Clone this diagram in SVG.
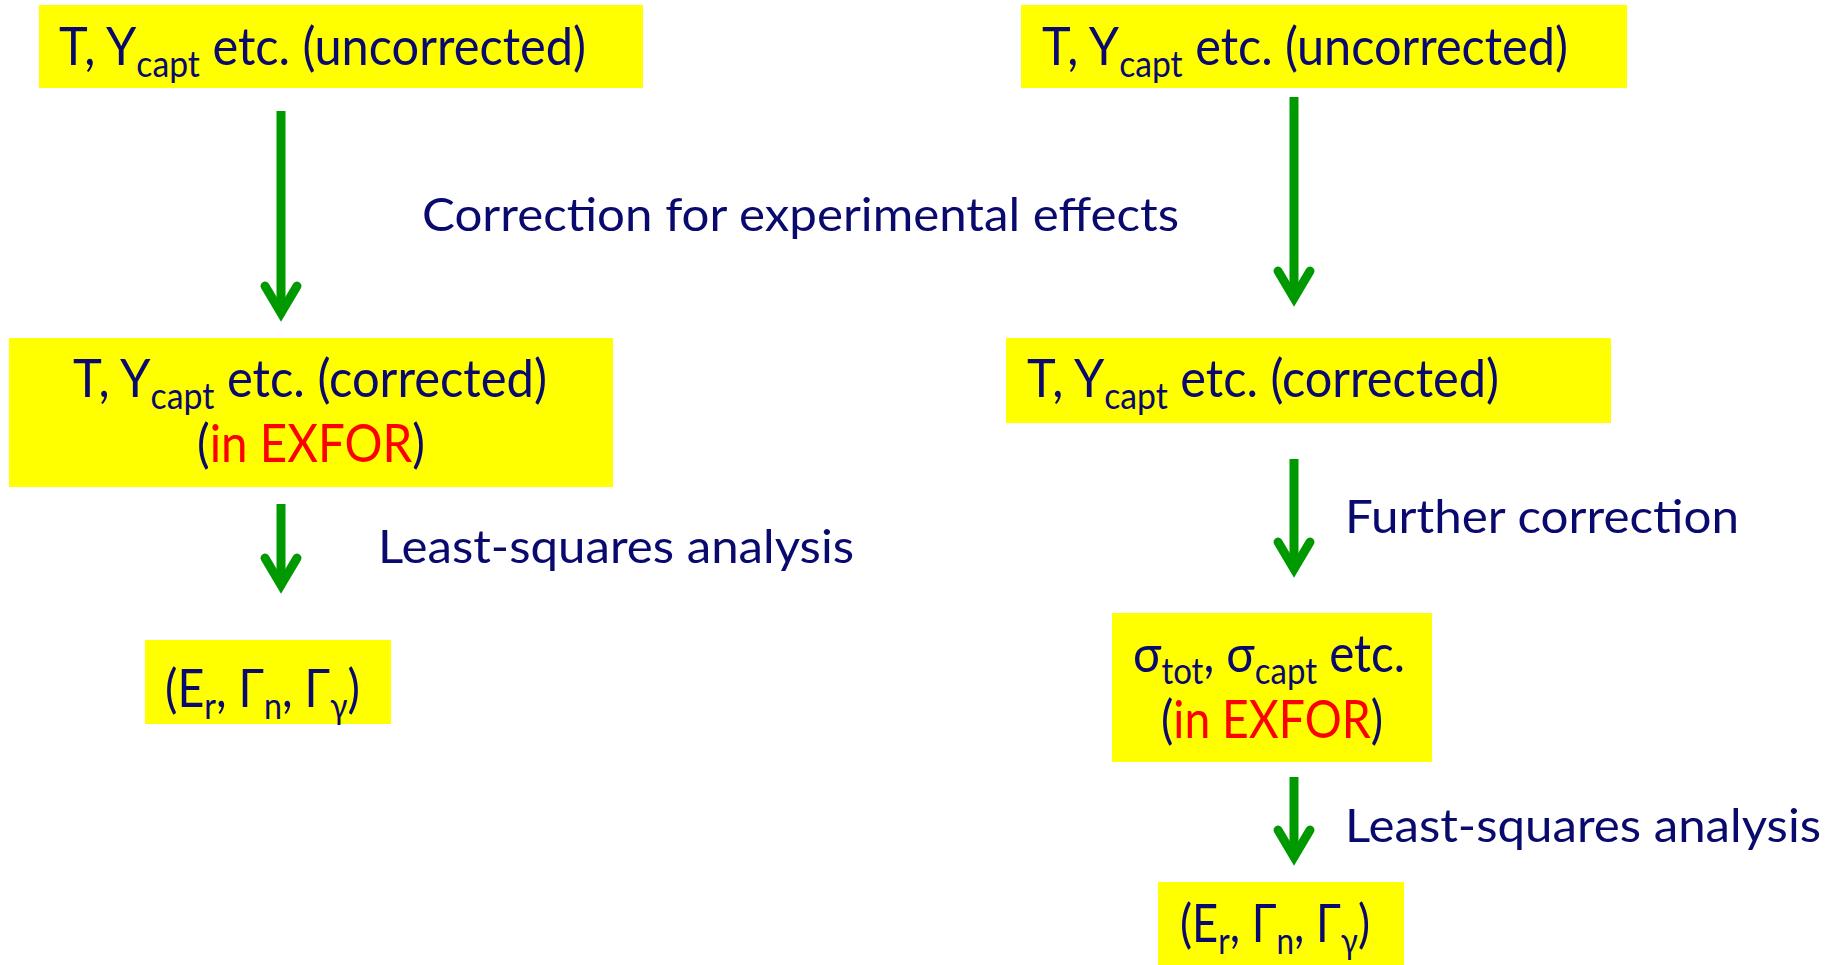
<svg xmlns="http://www.w3.org/2000/svg" width="1839" height="965" viewBox="0 0 1839 965">
<style>
  .box{fill:#FFFF00;}
  .t{font-family:Lato,"Open Sans","Liberation Sans",sans-serif;fill:#0A0A6E;}
  .bt{font-size:52px;}
  .lb{font-size:47px;}
  .sub{font-size:36px;}
  .red{fill:#FF0000;}
  .arr{stroke:#009900;stroke-width:9;fill:none;marker-end:url(#head);}
</style>
<defs>
  <marker id="head" markerUnits="userSpaceOnUse" viewBox="-40 -25 60 50" markerWidth="60" markerHeight="50" refX="0" refY="0" orient="auto" overflow="visible">
    <polyline points="-27,-16 0,0 -27,16" fill="none" stroke="#009900" stroke-width="9" stroke-linecap="round" stroke-linejoin="miter"/>
  </marker>
</defs>

<g id="connectors">
  <line class="arr" x1="281" y1="111" x2="281" y2="313"/>
  <line class="arr" x1="1294" y1="97" x2="1294" y2="298"/>
  <line class="arr" x1="281" y1="504" x2="281" y2="585"/>
  <line class="arr" x1="1294" y1="459" x2="1294" y2="569"/>
  <line class="arr" x1="1294" y1="777" x2="1294" y2="857"/>
  <text class="t lb" x="422" y="231" textLength="757" lengthAdjust="spacingAndGlyphs">Correction for experimental effects</text>
  <text class="t lb" x="378" y="563" textLength="476" lengthAdjust="spacingAndGlyphs">Least-squares analysis</text>
  <text class="t lb" x="1345" y="533" textLength="394" lengthAdjust="spacingAndGlyphs">Further correction</text>
  <text class="t lb" x="1345" y="842" textLength="476" lengthAdjust="spacingAndGlyphs">Least-squares analysis</text>
</g>

<g id="node-left-uncorrected">
  <rect class="box" x="39" y="5" width="604" height="83"/>
  <text class="t bt" x="59" y="65" textLength="527" lengthAdjust="spacingAndGlyphs">T, Y<tspan class="sub" dy="12">capt</tspan><tspan dy="-12"> etc. (uncorrected)</tspan></text>
</g>

<g id="node-right-uncorrected">
  <rect class="box" x="1021" y="5" width="606" height="83"/>
  <text class="t bt" x="1042" y="65" textLength="526" lengthAdjust="spacingAndGlyphs">T, Y<tspan class="sub" dy="12">capt</tspan><tspan dy="-12"> etc. (uncorrected)</tspan></text>
</g>

<g id="node-left-corrected">
  <rect class="box" x="9" y="338" width="604" height="149"/>
  <text class="t bt" x="73" y="397" textLength="474" lengthAdjust="spacingAndGlyphs">T, Y<tspan class="sub" dy="12">capt</tspan><tspan dy="-12"> etc. (corrected)</tspan></text>
  <text class="t bt" x="197" y="462" textLength="228" lengthAdjust="spacingAndGlyphs">(<tspan class="red">in EXFOR</tspan>)</text>
</g>

<g id="node-left-params">
  <rect class="box" x="145" y="640" width="246" height="84"/>
  <text class="t bt" x="165" y="707" textLength="195" lengthAdjust="spacingAndGlyphs">(E<tspan class="sub" dy="12">r</tspan><tspan dy="-12">, Γ</tspan><tspan class="sub" dy="12">n</tspan><tspan dy="-12">, Γ</tspan><tspan class="sub" dy="12">γ</tspan><tspan dy="-12">)</tspan></text>
</g>

<g id="node-right-corrected">
  <rect class="box" x="1006" y="338" width="605" height="85"/>
  <text class="t bt" x="1027" y="397" textLength="472" lengthAdjust="spacingAndGlyphs">T, Y<tspan class="sub" dy="12">capt</tspan><tspan dy="-12"> etc. (corrected)</tspan></text>
</g>

<g id="node-right-sigma">
  <rect class="box" x="1112" y="613" width="320" height="149"/>
  <text class="t bt" x="1133" y="672" textLength="272" lengthAdjust="spacingAndGlyphs">σ<tspan class="sub" dy="12">tot</tspan><tspan dy="-12">, σ</tspan><tspan class="sub" dy="12">capt</tspan><tspan dy="-12"> etc.</tspan></text>
  <text class="t bt" x="1161" y="738" textLength="222" lengthAdjust="spacingAndGlyphs">(<tspan class="red">in EXFOR</tspan>)</text>
</g>

<g id="node-right-params">
  <rect class="box" x="1158" y="882" width="246" height="83"/>
  <text class="t bt" x="1180" y="942" textLength="190" lengthAdjust="spacingAndGlyphs">(E<tspan class="sub" dy="12">r</tspan><tspan dy="-12">, Γ</tspan><tspan class="sub" dy="12">n</tspan><tspan dy="-12">, Γ</tspan><tspan class="sub" dy="12">γ</tspan><tspan dy="-12">)</tspan></text>
</g>
</svg>
